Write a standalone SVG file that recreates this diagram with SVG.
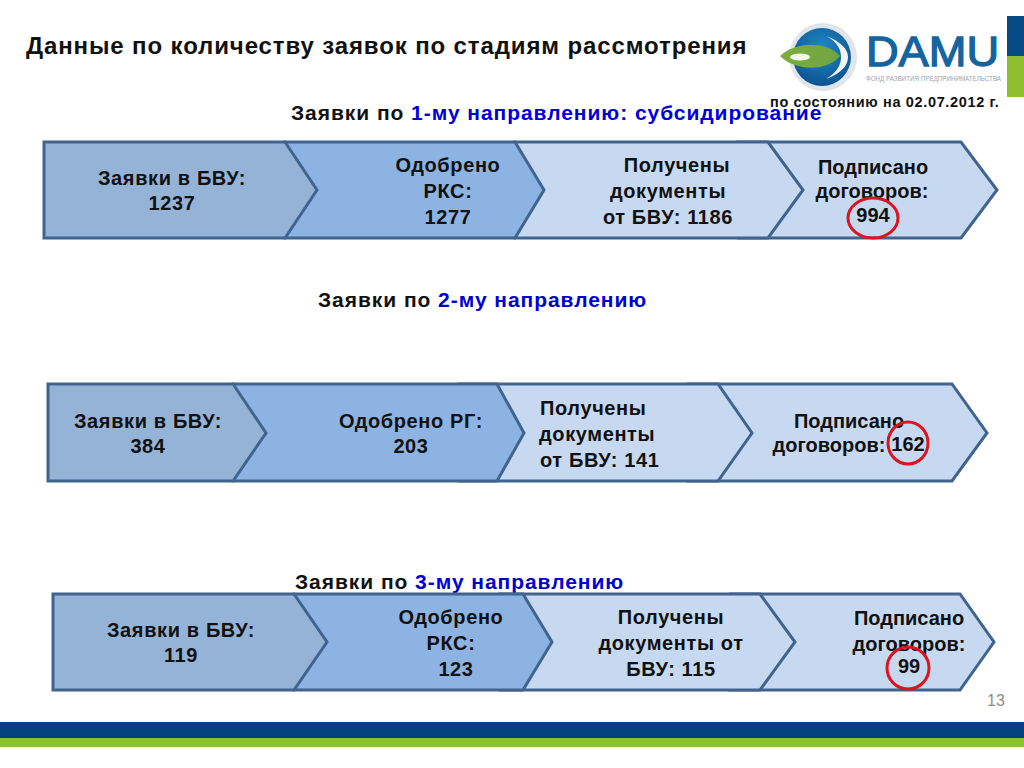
<svg xmlns="http://www.w3.org/2000/svg" width="1024" height="768" viewBox="0 0 1024 768">
<defs>
<radialGradient id="blueBall" cx="0.5" cy="0.35" r="0.75"><stop offset="0" stop-color="#1f8ac6"/><stop offset="1" stop-color="#0b4a88"/></radialGradient>
<linearGradient id="leaf" x1="0" x2="1" y1="0" y2="0"><stop offset="0" stop-color="#7cae3a"/><stop offset="1" stop-color="#6fa544"/></linearGradient>
</defs>
<style>
text{font-family:"Liberation Sans",Arial,sans-serif;font-weight:bold;fill:#111}
.t{font-size:20px;text-anchor:middle;letter-spacing:.62px}
.u{font-size:20px;text-anchor:middle}
.l{font-size:20px;letter-spacing:.62px}
.h{font-size:21px;letter-spacing:.95px}
.b{fill:#0000d4}
.s{stroke:#41648f;stroke-width:3;stroke-linejoin:miter}
.a{fill:#95b3d7}.c{fill:#8db3e2}.d{fill:#c6d9f1}
.r{fill:none;stroke:#dc1420;stroke-width:3}
</style>
<rect width="1024" height="768" fill="#fff"/>
<text x="26" y="54" style="font-size:24px;letter-spacing:.88px">Данные по количеству заявок по стадиям рассмотрения</text>
<g id="logo">
<circle cx="823" cy="57" r="34" fill="#dfe5ea"/>
<circle cx="822" cy="57" r="29" fill="url(#blueBall)"/>
<path d="M826 36C842 42 848 50 848 57C848 65 842 73 826 79C838 72 841 64 841 57C841 50 838 42 826 36Z" fill="#f4f7f9"/>
<path d="M780 56C794 42 826 40 840 56C828 71 796 72 780 56Z" fill="url(#leaf)"/>
<ellipse cx="800" cy="57" rx="10" ry="3.6" fill="#f2f6ee"/>
<text x="866" y="66" textLength="133" lengthAdjust="spacingAndGlyphs" style="font-size:43px;font-weight:normal;fill:#14659f;stroke:#14659f;stroke-width:1.3px">DAMU</text>
<text x="866" y="80.5" textLength="135" lengthAdjust="spacingAndGlyphs" style="font-size:6.5px;font-weight:normal;fill:#9aa5ae">ФОНД РАЗВИТИЯ ПРЕДПРИНИМАТЕЛЬСТВА</text>
<rect x="1007" y="16" width="17" height="40" fill="#064a85"/>
<rect x="1007" y="56" width="17" height="41" fill="#8dbf30"/>
</g>
<text class="h" x="291" y="120">Заявки по <tspan class="b">1-му направлению: субсидирование</tspan></text>
<text x="770" y="107" style="font-size:14.5px;letter-spacing:.65px">по состоянию на 02.07.2012 г.</text>
<text class="h" x="318" y="307">Заявки по <tspan class="b">2-му направлению</tspan></text>
<text class="h" x="295" y="589">Заявки по <tspan class="b">3-му направлению</tspan></text>
<g id="connectors"/>
<g id="row1-d"><path class="s d" d="M738 142H961L997 190L961 238H738Z"/><text class="u" x="873" y="174">Подписано</text><text class="u" x="872" y="198">договоров:</text><text class="u" x="873" y="222">994</text><ellipse class="r" cx="873" cy="218" rx="25" ry="20"/></g>
<g id="row1-c"><path class="s d" d="M515 142H768L803 190L768 238H515Z"/><text class="t" x="677" y="172">Получены</text><text class="t" x="668" y="198">документы</text><text class="t" x="668" y="224">от БВУ: 1186</text></g>
<g id="row1-b"><path class="s c" d="M285 142H515L544 190L515 238H285Z"/><text class="t" x="448" y="172">Одобрено</text><text class="t" x="448" y="198">РКС:</text><text class="t" x="448" y="224">1277</text></g>
<g id="row1-a"><path class="s a" d="M44 142H285L317 190L285 238H44Z"/><text class="t" x="172" y="185">Заявки в БВУ:</text><text class="t" x="172" y="210">1237</text></g>
<g id="row2-d"><path class="s d" d="M688 384H952L987 433L952 481H688Z"/><text class="u" x="849" y="428">Подписано</text><text class="u" x="829" y="452">договоров:</text><text class="u" x="908" y="451">162</text><ellipse class="r" cx="908" cy="443" rx="20" ry="21"/></g>
<g id="row2-c"><path class="s d" d="M460 384H718L752 433L718 481H460Z"/><text class="l" x="540" y="415">Получены</text><text class="l" x="539" y="441">документы</text><text class="l" x="540" y="467">от БВУ: 141</text></g>
<g id="row2-b"><path class="s c" d="M233 384H497L524 433L497 481H233Z"/><text class="t" x="411" y="428">Одобрено РГ:</text><text class="t" x="411" y="453">203</text></g>
<g id="row2-a"><path class="s a" d="M48 384H233L266 433L233 481H48Z"/><text class="t" x="148" y="428">Заявки в БВУ:</text><text class="t" x="148" y="453">384</text></g>
<g id="row3-d"><path class="s d" d="M730 594H960L994 642L960 690H730Z"/><text class="u" x="909" y="625">Подписано</text><text class="u" x="909" y="651">договоров:</text><text class="u" x="909" y="673">99</text><circle class="r" cx="908" cy="668" r="21"/></g>
<g id="row3-c"><path class="s d" d="M500 594H760L795 642L760 690H500Z"/><text class="t" x="671" y="624">Получены</text><text class="t" x="671" y="650">документы от</text><text class="t" x="671" y="676">БВУ: 115</text></g>
<g id="row3-b"><path class="s c" d="M294 594H523L552 642L523 690H294Z"/><text class="t" x="451" y="624">Одобрено</text><text class="t" x="451" y="650">РКС:</text><text class="t" x="456" y="676">123</text></g>
<g id="row3-a"><path class="s a" d="M53 594H294L327 642L294 690H53Z"/><text class="t" x="181" y="637">Заявки в БВУ:</text><text class="t" x="181" y="662">119</text></g>
<text x="987" y="706" style="font-size:16px;font-weight:normal;fill:#8a8a8a">13</text>
<g id="footer"><rect y="722" width="1024" height="16" fill="#03417f"/><rect y="738" width="1024" height="9" fill="#8cc12f"/></g>
</svg>
